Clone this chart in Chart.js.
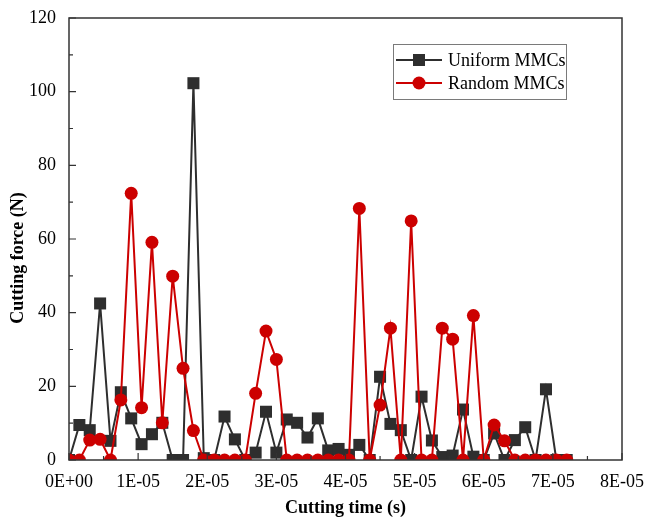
<!DOCTYPE html>
<html>
<head>
<meta charset="utf-8">
<script src="https://cdn.jsdelivr.net/npm/chart.js@4.4.1/dist/chart.umd.min.js"></script>
<style>
  html, body { margin: 0; padding: 0; background: #fff; }
</style>
</head>
<body>
<canvas id="chartForce" width="646" height="517"></canvas>
<script>
// cutting time (s)
const times = [
  0, 1.5e-6, 3e-6, 4.5e-6, 6e-6, 7.5e-6, 9e-6, 1.05e-5, 1.2e-5, 1.35e-5,
  1.5e-5, 1.65e-5, 1.8e-5, 1.95e-5, 2.1e-5, 2.25e-5, 2.4e-5, 2.55e-5, 2.7e-5, 2.85e-5,
  3e-5, 3.15e-5, 3.3e-5, 3.45e-5, 3.6e-5, 3.75e-5, 3.9e-5, 4.05e-5, 4.2e-5, 4.35e-5,
  4.5e-5, 4.65e-5, 4.8e-5, 4.95e-5, 5.1e-5, 5.25e-5, 5.4e-5, 5.55e-5, 5.7e-5, 5.85e-5,
  6e-5, 6.15e-5, 6.3e-5, 6.45e-5, 6.6e-5, 6.75e-5, 6.9e-5, 7.05e-5, 7.2e-5
];
// cutting force (N)
const uniformMMCs = [
  0, 9.5, 8.1, 42.5, 5.2, 18.4, 11.3, 4.3, 7.0, 10.1,
  0, 0, 102.3, 0.5, 0, 11.8, 5.6, 0, 2.0, 13.1,
  2.0, 11.0, 10.1, 6.1, 11.3, 2.6, 3.0, 1.4, 4.1, 0,
  22.6, 9.8, 8.1, 0, 17.2, 5.3, 0.8, 1.2, 13.7, 0.9,
  0, 7.2, 0, 5.4, 8.9, 0, 19.2, 0, 0
];
const randomMMCs = [
  0, 0, 5.4, 5.6, 0, 16.3, 72.4, 14.2, 59.1, 10.1,
  49.9, 24.9, 8.0, 0, 0, 0, 0, 0, 18.1, 35.0,
  27.3, 0, 0, 0, 0, 0, 0, 0, 68.3, 0,
  14.9, 35.8, 0, 64.9, 0, 0, 35.8, 32.8, 0, 39.2,
  0, 9.5, 5.2, 0, 0, 0, 0, 0, 0
];
const xTickLabels = ['0E+00', '1E-05', '2E-05', '3E-05', '4E-05', '5E-05', '6E-05', '7E-05', '8E-05'];
const yTitle = 'Cutting force (N)';

const serif = '"Liberation Serif", "Times New Roman", serif';
const frameColor = '#333333';

const toPoints = arr => arr.map((v, i) => ({ x: times[i], y: v }));

// box round the plot with ticks pointing inwards, plus the y title
const framePlugin = {
  id: 'frame',
  afterDatasetsDraw(chart) {
    const { ctx, chartArea: a, scales } = chart;
    ctx.save();
    ctx.strokeStyle = frameColor;
    ctx.lineWidth = 1.5;
    ctx.strokeRect(a.left, a.top, a.right - a.left, a.bottom - a.top);
    ctx.lineWidth = 1.2;
    ctx.beginPath();
    const xs = scales.x, ys = scales.y;
    const xt = xs.ticks.map(t => t.value);
    xt.forEach((v, i) => {
      const px = xs.getPixelForValue(v);
      ctx.moveTo(px, a.bottom); ctx.lineTo(px, a.bottom - 7);
      if (i < xt.length - 1) {
        const mx = xs.getPixelForValue((v + xt[i + 1]) / 2);
        ctx.moveTo(mx, a.bottom); ctx.lineTo(mx, a.bottom - 4);
      }
    });
    const yt = ys.ticks.map(t => t.value);
    yt.forEach((v, i) => {
      const py = ys.getPixelForValue(v);
      ctx.moveTo(a.left, py); ctx.lineTo(a.left + 7, py);
      if (i < yt.length - 1) {
        const my = ys.getPixelForValue((v + yt[i + 1]) / 2);
        ctx.moveTo(a.left, my); ctx.lineTo(a.left + 4, my);
      }
    });
    ctx.stroke();

    ctx.translate(18, 258);
    ctx.rotate(-Math.PI / 2);
    ctx.fillStyle = '#000';
    ctx.font = 'bold 18px ' + serif;
    ctx.textAlign = 'center';
    ctx.textBaseline = 'middle';
    ctx.fillText(yTitle, 0, 0);
    ctx.restore();
  }
};

// legend box inside the plot, top right
const boxLegend = {
  id: 'boxLegend',
  afterDraw(chart) {
    const { ctx } = chart;
    const x0 = 393, y0 = 44, w = 173, h = 55;
    ctx.save();
    ctx.strokeStyle = '#7a7a7a';
    ctx.lineWidth = 1;
    ctx.strokeRect(x0 + 0.5, y0 + 0.5, w, h);
    const order = [1, 0];
    order.forEach((di, row) => {
      const ds = chart.data.datasets[di];
      const y = y0 + 16 + row * 23;
      ctx.strokeStyle = ds.borderColor;
      ctx.lineWidth = 2;
      ctx.beginPath();
      ctx.moveTo(x0 + 3, y); ctx.lineTo(x0 + 49, y);
      ctx.stroke();
      ctx.fillStyle = ds.backgroundColor;
      ctx.beginPath();
      if (ds.pointStyle === 'rect') ctx.rect(x0 + 26 - 6, y - 6, 12, 12);
      else ctx.arc(x0 + 26, y, 6.5, 0, Math.PI * 2);
      ctx.fill();
      ctx.fillStyle = '#000';
      ctx.font = '18px ' + serif;
      ctx.textBaseline = 'middle';
      ctx.fillText(ds.label, x0 + 55, y + 1);
    });
    ctx.restore();
  }
};

new Chart(document.getElementById('chartForce').getContext('2d'), {
  type: 'line',
  data: {
    datasets: [
      {
        label: 'Random MMCs',
        data: toPoints(randomMMCs),
        borderColor: '#cc0000',
        backgroundColor: '#cc0000',
        borderWidth: 2,
        pointStyle: 'circle',
        pointRadius: 6.5,
        pointBorderWidth: 0,
        order: 0
      },
      {
        label: 'Uniform MMCs',
        data: toPoints(uniformMMCs),
        borderColor: '#2e2e2e',
        backgroundColor: '#2e2e2e',
        borderWidth: 2,
        pointStyle: 'rect',
        pointRadius: 8.5,
        pointBorderWidth: 0,
        order: 1
      }
    ]
  },
  options: {
    responsive: false,
    animation: false,
    layout: { padding: { left: 0, right: 24, top: 18, bottom: 0 } },
    plugins: { legend: { display: false }, tooltip: { enabled: false } },
    elements: { line: { tension: 0 } },
    scales: {
      x: {
        type: 'linear',
        min: 0,
        max: 8e-5,
        grid: { display: false },
        border: { display: false },
        ticks: {
          stepSize: 1e-5,
          autoSkip: false,
          maxRotation: 0,
          padding: 3,
          color: '#000',
          font: { family: serif, size: 18 },
          callback: (v, i) => xTickLabels[i]
        },
        title: {
          display: true,
          text: 'Cutting time (s)',
          color: '#000',
          font: { family: serif, size: 18, weight: 'bold' },
          padding: { top: 8, bottom: -2 }
        },
        afterFit: s => { s.height = 57; s.paddingLeft = 0; s.paddingRight = 0; }
      },
      y: {
        min: 0,
        max: 120,
        grid: { display: false },
        border: { display: false },
        ticks: {
          stepSize: 20,
          padding: 5,
          color: '#000',
          font: { family: serif, size: 18 }
        },
        afterFit: s => { s.width = 69; s.paddingTop = 0; s.paddingBottom = 0; }
      }
    }
  },
  plugins: [framePlugin, boxLegend]
});
</script>
</body>
</html>
